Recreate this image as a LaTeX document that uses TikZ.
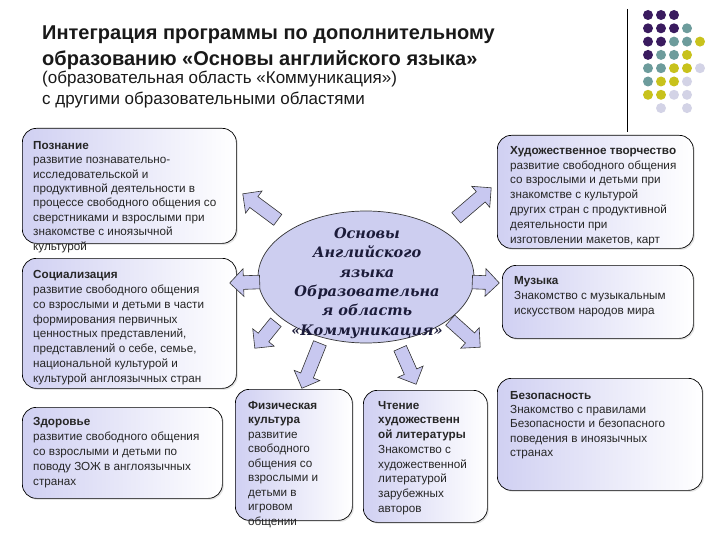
\documentclass[tikz,border=0pt]{standalone}
\usepackage{fontspec}
\setmainfont{Liberation Sans}
\newfontfamily\emblemfont{DejaVu Serif}
\usepackage{tikz}
\usetikzlibrary{shapes.geometric, shapes.arrows, calc, shadows}

\definecolor{boxlav}{RGB}{208,208,242}
\definecolor{elllav}{RGB}{205,206,240}
\definecolor{arrowlav}{RGB}{200,200,240}
\definecolor{navytext}{RGB}{28,28,58}
\definecolor{dotpurple}{RGB}{58,27,95}
\definecolor{dotteal}{RGB}{109,156,156}
\definecolor{dotyellow}{RGB}{200,194,28}
\definecolor{dotlight}{RGB}{211,211,230}

% fat arrow from tail point to tip point
\newcommand{\blockarrow}[2]{%
  \path let \p1=(#1), \p2=(#2), \n1={atan2(\y2-\y1,\x2-\x1)}, \n2={veclen(\x2-\x1,\y2-\y1)} in
    node[fatarrow, rotate=\n1, minimum height=\n2, anchor=tail] at (\p1) {};}

\begin{document}
\begin{tikzpicture}[
    x=1pt, y=-1pt,
    box/.style={draw=black, line width=0.7pt, rounded corners=14pt, left color=boxlav, right color=white, drop shadow={opacity=0.2, shadow xshift=1.5pt, shadow yshift=-1.5pt}, anchor=north west, inner sep=0pt},
    boxtext/.style={anchor=north west, align=left, inner sep=0pt, text=black!85},
    fatarrow/.style={single arrow, draw=black!80, fill=arrowlav, line width=0.6pt, inner xsep=0pt, inner ysep=6.5pt, single arrow head extend=7pt}
]

\fill[white] (0,0) rectangle (720,540);
\useasboundingbox (0,0) rectangle (720,540);

% Title
\node[anchor=north west, align=left, inner sep=0pt, font=\bfseries\fontsize{20}{25.5}\selectfont, text=black!90] (title) at (42,26) {Интеграция программы по дополнительному\\образованию «Основы английского языка»};
\node[anchor=north west, align=left, inner sep=0pt, font=\fontsize{17}{21}\selectfont, text=black!90] (subtitle) at (42,71) {(образовательная область «Коммуникация»)\\с другими образовательными областями};

% Dots
\draw[line width=1pt] (627,9) -- (627,132);
\foreach \col/\row/\clr in {0/0/dotpurple,1/0/dotpurple,2/0/dotpurple,
    0/1/dotpurple,1/1/dotpurple,2/1/dotpurple,3/1/dotteal,
    0/2/dotpurple,1/2/dotpurple,2/2/dotteal,3/2/dotteal,4/2/dotyellow,
    0/3/dotpurple,1/3/dotteal,2/3/dotteal,3/3/dotyellow,
    0/4/dotteal,1/4/dotteal,2/4/dotyellow,3/4/dotyellow,4/4/dotlight,
    0/5/dotteal,1/5/dotyellow,2/5/dotyellow,3/5/dotlight,
    0/6/dotyellow,1/6/dotyellow,2/6/dotlight,3/6/dotlight,
    1/7/dotlight,3/7/dotlight}
  \fill[\clr] (648+13*\col, 15+13.3*\row) circle (5pt);

% Centre
\node[ellipse, draw=black!80, fill=elllav, line width=0.7pt, minimum width=216pt, minimum height=132pt] (ell) at (366,277) {};
\node[align=center, inner sep=0pt, text=navytext, font=\emblemfont\bfseries\itshape\fontsize{14.5}{19.4}\selectfont] (elltext) at (367,283) {Основы\\Английского\\языка\\Образовательна\\я область\\«Коммуникация»};

% Boxes
\node[box, minimum width=214pt, minimum height=115pt] (pozn) at (22,128) {};
\node[boxtext, font=\fontsize{11.7}{14.4}\selectfont] (pozntext) at (33,141) {\textbf{Познание}\\развитие познавательно-\\исследовательской и\\продуктивной деятельности в\\процессе свободного общения со\\сверстниками и взрослыми при\\знакомстве с иноязычной\\культурой};

\node[box, minimum width=214pt, minimum height=130pt] (soc) at (22,258) {};
\node[boxtext, font=\fontsize{11.7}{14.9}\selectfont] (soctext) at (33,270) {\textbf{Социализация}\\развитие свободного общения\\со взрослыми и детьми в части\\формирования первичных\\ценностных представлений,\\представлений о себе, семье,\\национальной культурой и\\культурой англоязычных стран};

\node[box, minimum width=200pt, minimum height=91pt] (zdor) at (22,407) {};
\node[boxtext, font=\fontsize{11.7}{15}\selectfont] (zdortext) at (33,417) {\textbf{Здоровье}\\развитие свободного общения\\со взрослыми и детьми по\\поводу ЗОЖ в англоязычных\\странах};

\node[box, minimum width=117pt, minimum height=131pt] (fiz) at (235,389) {};
\node[boxtext, font=\fontsize{11.7}{14.5}\selectfont] (fiztext) at (248,401) {\textbf{Физическая}\\\textbf{культура}\\развитие\\свободного\\общения со\\взрослыми и\\детьми в\\игровом\\общении};

\node[box, minimum width=124pt, minimum height=132pt] (cht) at (363,390) {};
\node[boxtext, font=\fontsize{11.7}{14.7}\selectfont] (chttext) at (378,401) {\textbf{Чтение}\\\textbf{художественн}\\\textbf{ой литературы}\\Знакомство с\\художественной\\литературой\\зарубежных\\авторов};

\node[box, minimum width=205pt, minimum height=112pt] (bez) at (497,378) {};
\node[boxtext, font=\fontsize{11.7}{14.3}\selectfont] (beztext) at (510,391) {\textbf{Безопасность}\\Знакомство с правилами\\Безопасности и безопасного\\поведения в иноязычных\\странах};

\node[box, minimum width=191pt, minimum height=73pt] (muz) at (502,265) {};
\node[boxtext, font=\fontsize{11.7}{15}\selectfont] (muztext) at (514,276) {\textbf{Музыка}\\Знакомство с музыкальным\\искусством народов мира};

\node[box, minimum width=196pt, minimum height=113pt] (hud) at (497,135) {};
\node[boxtext, font=\fontsize{11.7}{14.8}\selectfont] (hudtext) at (510,146) {\textbf{Художественное творчество}\\развитие свободного общения\\со взрослыми и детьми  при\\знакомстве с культурой\\других стран с продуктивной\\деятельности при\\изготовлении макетов, карт};

% Arrows
\coordinate (fromPozn) at (278,220); \coordinate (toPozn) at (243,194);
\coordinate (fromSoc)  at (260,282); \coordinate (toSoc)  at (230,283);
\coordinate (fromZdor) at (276,322); \coordinate (toZdor) at (255,348);
\coordinate (fromFiz)  at (320,343); \coordinate (toFiz)  at (302,388);
\coordinate (fromCht)  at (400,348); \coordinate (toCht)  at (416,384);
\coordinate (fromBez)  at (450,320); \coordinate (toBez)  at (480,347);
\coordinate (fromMuz)  at (472,282); \coordinate (toMuz)  at (499,283);
\coordinate (fromHud)  at (456,218); \coordinate (toHud)  at (491,188);

\blockarrow{fromPozn}{toPozn}
\blockarrow{fromSoc}{toSoc}
\blockarrow{fromZdor}{toZdor}
\blockarrow{fromFiz}{toFiz}
\blockarrow{fromCht}{toCht}
\blockarrow{fromBez}{toBez}
\blockarrow{fromMuz}{toMuz}
\blockarrow{fromHud}{toHud}

\end{tikzpicture}
\end{document}
